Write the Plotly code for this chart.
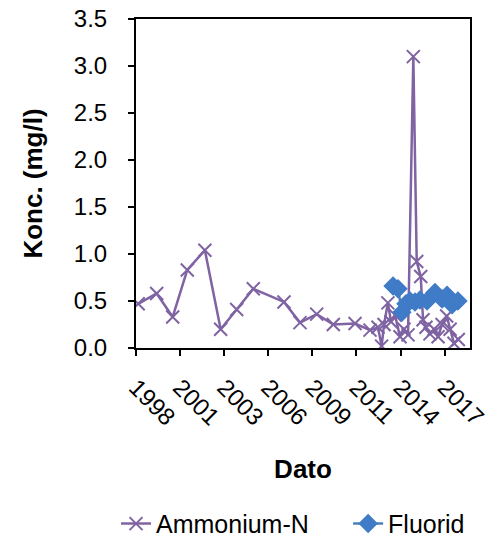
import plotly.graph_objects as go

# Ammonium-N sampling dates and concentrations (mg/l)
ammonium_dates = [
    "1998-06-01", "1999-07-25", "2000-07-22", "2001-06-18", "2002-07-22",
    "2003-07-15", "2004-07-12", "2005-07-24", "2007-06-20", "2008-06-17",
    "2009-07-01", "2010-07-12", "2011-11-17", "2012-10-22", "2013-04-20",
    "2013-07-12", "2013-09-05", "2013-12-01", "2014-02-10", "2014-05-12",
    "2014-09-02", "2014-12-01", "2015-03-03", "2015-07-01", "2015-09-16",
    "2015-12-16", "2016-02-06", "2016-04-12", "2016-07-12", "2016-10-12",
    "2017-01-12", "2017-04-12", "2017-07-26", "2017-10-12", "2018-01-08",
    "2018-04-16",
]
ammonium_values = [
    0.47, 0.58, 0.33, 0.83, 1.04,
    0.20, 0.41, 0.63, 0.49, 0.27,
    0.36, 0.25, 0.26, 0.19, 0.22,
    0.02, 0.25, 0.48, 0.28, 0.35,
    0.12, 0.20, 0.14, 3.10, 0.92,
    0.76, 0.30, 0.22, 0.15, 0.20,
    0.12, 0.25, 0.34, 0.20, 0.05,
    0.09,
]

# Fluorid sampling dates and concentrations (mg/l)
fluorid_dates = [
    "2014-03-28", "2014-07-19", "2014-10-15", "2015-01-15", "2015-04-16",
    "2015-08-07", "2015-11-28", "2016-05-08", "2016-11-03", "2017-04-12",
    "2017-08-04", "2017-11-25", "2018-04-08",
]
fluorid_values = [
    0.66, 0.63, 0.38, 0.47, 0.50,
    0.49, 0.51, 0.50, 0.59, 0.52,
    0.56, 0.46, 0.50,
]

# Date axis: ticks every 1000 days from the axis start, labelled by year
axis_start = "1998-04-12"
axis_end = "2019-01-06"
DAY_MS = 86400000

FONT = "Liberation Sans, Arial, sans-serif"
PURPLE = "#7F63A2"
BLUE = "#4A7EBB"
BLUE_MARK = "#3F7BC6"

fig = go.Figure()
fig.add_trace(go.Scatter(
    x=ammonium_dates, y=ammonium_values, name="Ammonium-N",
    mode="lines+markers", legend="legend",
    line=dict(color=PURPLE, width=2.5),
    marker=dict(symbol="x-thin", size=13, line=dict(color=PURPLE, width=2), color=PURPLE),
))
fig.add_trace(go.Scatter(
    x=fluorid_dates, y=fluorid_values, name="Fluorid",
    mode="lines+markers", legend="legend2",
    line=dict(color=BLUE, width=2.5),
    marker=dict(symbol="diamond", size=15, color=BLUE_MARK),
))

legend_style = dict(
    orientation="h", xref="container", yref="container",
    xanchor="left", y=0.037, yanchor="middle",
    font=dict(size=25), bgcolor="rgba(0,0,0,0)",
)

fig.update_layout(
    width=498, height=544,
    margin=dict(l=136, r=28, t=19, b=196, autoexpand=False),
    paper_bgcolor="white", plot_bgcolor="white",
    font=dict(family=FONT, size=24, color="black"),
    showlegend=True,
    legend=dict(x=0.233, **legend_style),
    legend2=dict(x=0.699, **legend_style),
)

fig.update_xaxes(
    type="date", range=[axis_start, axis_end], automargin=False,
    tick0=axis_start, dtick=1000 * DAY_MS, tickformat="%Y",
    tickangle=45, ticks="outside", ticklen=6, tickwidth=2, tickcolor="black",
    showline=True, linecolor="black", linewidth=2, mirror=True,
    showgrid=False, zeroline=False,
    tickfont=dict(size=24), ticklabelstandoff=8,
    title=dict(text="<b>Dato</b>", font=dict(size=26), standoff=30),
)
fig.update_yaxes(
    range=[0, 3.5], dtick=0.5, tickformat=".1f", automargin=False,
    ticks="outside", ticklen=6, tickwidth=2, tickcolor="black",
    showline=True, linecolor="black", linewidth=2, mirror=True,
    showgrid=False, zeroline=False,
    tickfont=dict(size=24), ticklabelstandoff=16,
    title=dict(text="<b>Konc. (mg/l)</b>", font=dict(size=26), standoff=24),
)

fig.write_html("out.html")
